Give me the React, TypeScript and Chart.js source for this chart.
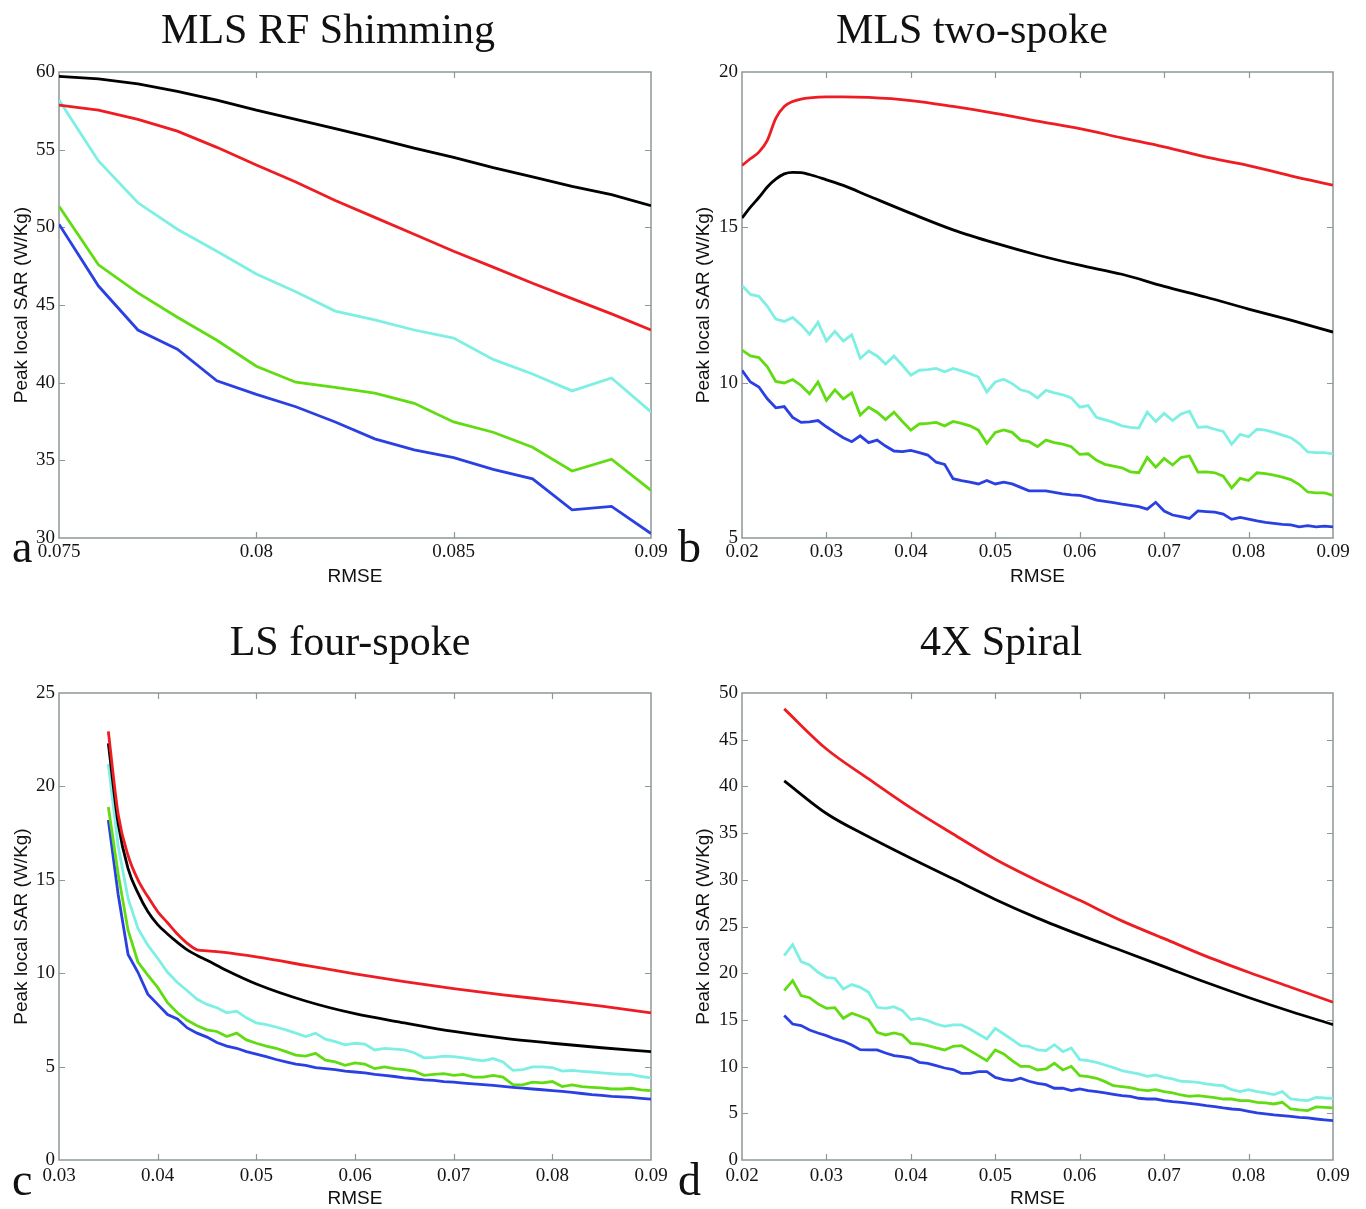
import React, { useEffect, useRef } from "react";
import { Chart, registerables } from "chart.js";

Chart.register(...registerables);

// ---------- shared x positions (RMSE) ----------
const rmseA = [0.075, 0.076, 0.077, 0.078, 0.079, 0.08, 0.081, 0.082, 0.083, 0.084, 0.085, 0.086, 0.087, 0.088, 0.089, 0.09];
const rmseFine = [
  0.02, 0.021, 0.022, 0.023, 0.024, 0.025, 0.026, 0.027, 0.028, 0.029,
  0.03, 0.031, 0.032, 0.033, 0.034, 0.035, 0.036, 0.037, 0.038, 0.039,
  0.04, 0.041, 0.042, 0.043, 0.044, 0.045, 0.046, 0.047, 0.048, 0.049,
  0.05, 0.051, 0.052, 0.053, 0.054, 0.055, 0.056, 0.057, 0.058, 0.059,
  0.06, 0.061, 0.062, 0.063, 0.064, 0.065, 0.066, 0.067, 0.068, 0.069,
  0.07, 0.071, 0.072, 0.073, 0.074, 0.075, 0.076, 0.077, 0.078, 0.079,
  0.08, 0.081, 0.082, 0.083, 0.084, 0.085, 0.086, 0.087, 0.088, 0.089, 0.09,
];
const rmseC = rmseFine.slice(15); // 0.035 .. 0.09
const rmseD = rmseFine.slice(5); // 0.025 .. 0.09

// ---------- panel a : MLS RF Shimming ----------
const aBlack = [59.72, 59.56, 59.24, 58.76, 58.19, 57.54, 56.95, 56.36, 55.75, 55.1, 54.51, 53.84, 53.25, 52.64, 52.1, 51.4];
const aRed = [57.87, 57.54, 56.95, 56.19, 55.15, 54.01, 52.92, 51.73, 50.64, 49.55, 48.46, 47.44, 46.4, 45.41, 44.43, 43.39];
const aCyan = [58.19, 54.27, 51.58, 49.88, 48.46, 47.0, 45.85, 44.61, 44.04, 43.39, 42.87, 41.5, 40.56, 39.47, 40.3, 38.12];
const aGreen = [51.36, 47.59, 45.78, 44.21, 42.73, 41.06, 40.03, 39.69, 39.32, 38.67, 37.47, 36.81, 35.84, 34.31, 35.07, 33.07];
const aBlue = [50.2, 46.22, 43.39, 42.15, 40.12, 39.25, 38.45, 37.47, 36.38, 35.68, 35.18, 34.42, 33.81, 31.81, 32.03, 30.29];

// ---------- panel b : MLS two-spoke ----------
const bSmoothX = [0.02, 0.021, 0.022, 0.023, 0.024, 0.025, 0.026, 0.027, 0.028, 0.03, 0.032, 0.035, 0.04, 0.045, 0.05, 0.055, 0.06, 0.065, 0.07, 0.075, 0.08, 0.085, 0.09];
const bRed = [16.99, 17.21, 17.42, 17.8, 18.51, 18.89, 19.05, 19.13, 19.17, 19.2, 19.2, 19.18, 19.08, 18.89, 18.67, 18.42, 18.18, 17.88, 17.59, 17.26, 16.99, 16.66, 16.36];
const bBlack = [15.3, 15.65, 15.96, 16.3, 16.55, 16.72, 16.77, 16.76, 16.7, 16.53, 16.35, 16.01, 15.45, 14.92, 14.49, 14.11, 13.78, 13.49, 13.1, 12.75, 12.37, 12.01, 11.63];
const bCyan = [
  13.13, 12.84, 12.78, 12.46, 12.05, 11.97, 12.1, 11.86, 11.56, 11.94,
  11.34, 11.65, 11.34, 11.54, 10.78, 11.02, 10.86, 10.6, 10.86, 10.56,
  10.24, 10.4, 10.42, 10.46, 10.35, 10.46, 10.38, 10.29, 10.18, 9.7,
  10.02, 10.11, 9.97, 9.77, 9.7, 9.51, 9.75, 9.67, 9.61, 9.51,
  9.21, 9.26, 8.88, 8.8, 8.72, 8.61, 8.56, 8.54, 9.05, 8.75,
  9.01, 8.78, 8.99, 9.08, 8.56, 8.58, 8.5, 8.43, 8.02, 8.34,
  8.26, 8.5, 8.47, 8.4, 8.31, 8.23, 8.04, 7.77, 7.75, 7.75, 7.71,
];
const bGreen = [
  11.05, 10.86, 10.81, 10.51, 10.04, 9.99, 10.1, 9.91, 9.64, 10.02,
  9.43, 9.77, 9.48, 9.67, 8.96, 9.21, 9.05, 8.81, 9.05, 8.75,
  8.47, 8.67, 8.69, 8.72, 8.61, 8.75, 8.69, 8.61, 8.47, 8.05,
  8.4, 8.48, 8.4, 8.15, 8.1, 7.94, 8.15, 8.07, 8.02, 7.94,
  7.69, 7.71, 7.5, 7.37, 7.31, 7.26, 7.13, 7.1, 7.59, 7.28,
  7.56, 7.35, 7.59, 7.64, 7.12, 7.13, 7.1, 6.99, 6.61, 6.92,
  6.85, 7.1, 7.07, 7.02, 6.96, 6.88, 6.72, 6.48, 6.45, 6.45, 6.37,
];
const bBlue = [
  10.4, 10.02, 9.86, 9.48, 9.19, 9.23, 8.88, 8.72, 8.74, 8.78,
  8.58, 8.4, 8.23, 8.1, 8.29, 8.07, 8.15, 7.96, 7.8, 7.78,
  7.82, 7.75, 7.67, 7.44, 7.37, 6.91, 6.85, 6.8, 6.74, 6.85,
  6.74, 6.8, 6.74, 6.63, 6.52, 6.52, 6.52, 6.47, 6.42, 6.39,
  6.37, 6.31, 6.22, 6.18, 6.14, 6.09, 6.05, 6.01, 5.93, 6.15,
  5.87, 5.74, 5.69, 5.63, 5.87, 5.85, 5.83, 5.77, 5.6, 5.66,
  5.61, 5.55, 5.5, 5.47, 5.44, 5.42, 5.36, 5.4, 5.36, 5.38, 5.36,
];

// ---------- panel c : LS four-spoke ----------
const cSmoothX = [0.035, 0.036, 0.037, 0.038, 0.039, 0.04, 0.041, 0.042, 0.043, 0.044, 0.045, 0.047, 0.05, 0.055, 0.06, 0.065, 0.07, 0.075, 0.08, 0.085, 0.09];
const cRed = [22.95, 18.5, 16.3, 15.0, 14.1, 13.3, 12.7, 12.1, 11.6, 11.25, 11.2, 11.1, 10.87, 10.42, 9.96, 9.55, 9.18, 8.84, 8.55, 8.24, 7.88];
const cBlack = [22.3, 18.0, 15.6, 14.3, 13.3, 12.6, 12.1, 11.65, 11.25, 10.95, 10.69, 10.14, 9.42, 8.51, 7.83, 7.34, 6.88, 6.52, 6.25, 6.01, 5.8];
const cCyan = [
  21.2, 16.8, 14.0, 12.4, 11.5, 10.8, 10.05, 9.5, 9.06, 8.6,
  8.33, 8.15, 7.88, 7.97, 7.61, 7.34, 7.25, 7.12, 6.97, 6.79,
  6.61, 6.79, 6.47, 6.34, 6.16, 6.25, 6.2, 5.89, 5.98, 5.94,
  5.89, 5.74, 5.47, 5.49, 5.56, 5.53, 5.47, 5.38, 5.31, 5.43,
  5.25, 4.8, 4.84, 4.98, 4.98, 4.95, 4.76, 4.8, 4.75, 4.71,
  4.66, 4.62, 4.58, 4.58, 4.47, 4.4,
];
const cGreen = [
  18.9, 15.3, 12.3, 10.6, 9.9, 9.24, 8.42, 7.88, 7.48, 7.19,
  6.97, 6.88, 6.61, 6.79, 6.43, 6.25, 6.1, 5.98, 5.8, 5.62,
  5.56, 5.71, 5.34, 5.25, 5.07, 5.2, 5.13, 4.89, 4.98, 4.89,
  4.84, 4.76, 4.53, 4.58, 4.62, 4.53, 4.58, 4.44, 4.44, 4.53,
  4.44, 4.04, 4.02, 4.17, 4.13, 4.2, 3.93, 4.02, 3.93, 3.89,
  3.86, 3.8, 3.8, 3.84, 3.75, 3.71,
];
const cBlue = [
  18.2, 14.2, 11.0, 10.05, 8.88, 8.33, 7.79, 7.55, 7.07, 6.79,
  6.58, 6.29, 6.1, 5.98, 5.8, 5.67, 5.53, 5.38, 5.25, 5.13,
  5.07, 4.95, 4.89, 4.84, 4.76, 4.71, 4.66, 4.58, 4.53, 4.47,
  4.4, 4.35, 4.29, 4.26, 4.2, 4.17, 4.12, 4.08, 4.03, 3.99,
  3.94, 3.89, 3.85, 3.8, 3.76, 3.71, 3.67, 3.62, 3.56, 3.5,
  3.46, 3.41, 3.38, 3.35, 3.3, 3.26,
];

// ---------- panel d : 4X Spiral ----------
const dSmoothX = [0.025, 0.03, 0.035, 0.04, 0.045, 0.05, 0.055, 0.06, 0.065, 0.07, 0.075, 0.08, 0.085, 0.09];
const dRed = [48.3, 44.0, 40.8, 37.7, 34.9, 32.2, 29.9, 27.8, 25.6, 23.7, 21.8, 20.1, 18.5, 16.9];
const dBlack = [40.6, 37.1, 34.6, 32.3, 30.1, 27.9, 25.9, 24.1, 22.4, 20.7, 19.0, 17.4, 15.9, 14.5];
const dCyan = [
  21.88, 23.06, 21.24, 20.88, 20.1, 19.56, 19.45, 18.31, 18.78, 18.49,
  17.96, 16.35, 16.24, 16.42, 15.99, 15.03, 15.17, 14.92, 14.56, 14.31,
  14.46, 14.46, 14.03, 13.49, 12.96, 14.1, 13.49, 12.89, 12.24, 12.17,
  11.78, 11.71, 12.35, 11.6, 12.0, 10.75, 10.64, 10.46, 10.17, 9.89,
  9.57, 9.39, 9.21, 8.96, 9.1, 8.85, 8.68, 8.43, 8.39, 8.32,
  8.14, 8.03, 7.96, 7.53, 7.32, 7.53, 7.32, 7.18, 7.0, 7.32,
  6.53, 6.43, 6.36, 6.71, 6.64, 6.61,
];
const dGreen = [
  18.13, 19.2, 17.6, 17.38, 16.71, 16.24, 16.31, 15.17, 15.71, 15.39,
  15.03, 13.67, 13.39, 13.6, 13.39, 12.49, 12.42, 12.24, 12.0, 11.78,
  12.17, 12.24, 11.71, 11.17, 10.64, 11.78, 11.35, 10.64, 10.03, 10.03,
  9.64, 9.75, 10.35, 9.64, 10.03, 9.03, 8.93, 8.75, 8.39, 7.96,
  7.86, 7.75, 7.53, 7.43, 7.53, 7.32, 7.18, 6.96, 6.82, 6.89,
  6.78, 6.68, 6.53, 6.53, 6.36, 6.36, 6.18, 6.11, 6.0, 6.18,
  5.46, 5.36, 5.29, 5.68, 5.64, 5.57,
];
const dBlue = [
  15.46, 14.56, 14.39, 13.92, 13.6, 13.32, 12.96, 12.71, 12.32, 11.82,
  11.78, 11.78, 11.46, 11.17, 11.07, 10.92, 10.46, 10.35, 10.1, 9.85,
  9.68, 9.28, 9.28, 9.46, 9.46, 8.85, 8.6, 8.5, 8.75, 8.43,
  8.21, 8.07, 7.68, 7.68, 7.43, 7.61, 7.43, 7.32, 7.18, 7.03,
  6.89, 6.82, 6.61, 6.53, 6.53, 6.36, 6.25, 6.18, 6.07, 5.96,
  5.82, 5.71, 5.57, 5.46, 5.39, 5.21, 5.04, 4.93, 4.82, 4.75,
  4.68, 4.57, 4.5, 4.39, 4.29, 4.21,
];

// ---------- text ----------
const panelTitles = ["MLS RF Shimming", "MLS two-spoke", "LS four-spoke", "4X Spiral"];
const panelLetters = ["a", "b", "c", "d"];
const xAxisTitle = "RMSE";
const yAxisTitle = "Peak local SAR (W/Kg)";

// ---------- styles ----------
const C_BLACK = "#000000";
const C_RED = "#ee1d23";
const C_CYAN = "#7eefe3";
const C_GREEN = "#62dc12";
const C_BLUE = "#2b40e2";
const FRAME = "#8d9797";
const SERIF = "'Liberation Serif', 'Times New Roman', serif";
const SANS = "'Liberation Sans', Arial, sans-serif";

type Line = { xs: number[]; ys: number[]; color: string; smooth: boolean };
type Panel = {
  left: number; top: number; width: number; height: number;
  padTop: number; padRight: number; yW: number; xH: number; xPad: number;
  xMin: number; xMax: number; xStep: number;
  yMin: number; yMax: number; yStep: number;
  title: string; titleX: number; titleY: number;
  letter: string; letterX: number; letterY: number;
  rmseY: number; yTitleX: number;
  lines: Line[];
};

const panels: Panel[] = [
  {
    left: 0, top: 0, width: 683, height: 604,
    padTop: 72, padRight: 32, yW: 59, xH: 66, xPad: 3,
    xMin: 0.075, xMax: 0.09, xStep: 0.005, yMin: 30, yMax: 60, yStep: 5,
    title: panelTitles[0], titleX: 328, titleY: 43,
    letter: panelLetters[0], letterX: 12, letterY: 562,
    rmseY: 582, yTitleX: 22,
    lines: [
      { xs: rmseA, ys: aBlack, color: C_BLACK, smooth: false },
      { xs: rmseA, ys: aRed, color: C_RED, smooth: false },
      { xs: rmseA, ys: aCyan, color: C_CYAN, smooth: false },
      { xs: rmseA, ys: aGreen, color: C_GREEN, smooth: false },
      { xs: rmseA, ys: aBlue, color: C_BLUE, smooth: false },
    ],
  },
  {
    left: 668, top: 0, width: 698, height: 604,
    padTop: 72, padRight: 33, yW: 74, xH: 66, xPad: 3,
    xMin: 0.02, xMax: 0.09, xStep: 0.01, yMin: 5, yMax: 20, yStep: 5,
    title: panelTitles[1], titleX: 304, titleY: 43,
    letter: panelLetters[1], letterX: 10, letterY: 562,
    rmseY: 582, yTitleX: 36,
    lines: [
      { xs: bSmoothX, ys: bRed, color: C_RED, smooth: true },
      { xs: bSmoothX, ys: bBlack, color: C_BLACK, smooth: true },
      { xs: rmseFine, ys: bCyan, color: C_CYAN, smooth: false },
      { xs: rmseFine, ys: bGreen, color: C_GREEN, smooth: false },
      { xs: rmseFine, ys: bBlue, color: C_BLUE, smooth: false },
    ],
  },
  {
    left: 0, top: 605, width: 683, height: 604,
    padTop: 88, padRight: 32, yW: 59, xH: 49, xPad: 5,
    xMin: 0.03, xMax: 0.09, xStep: 0.01, yMin: 0, yMax: 25, yStep: 5,
    title: panelTitles[2], titleX: 350, titleY: 50,
    letter: panelLetters[2], letterX: 12, letterY: 590,
    rmseY: 599, yTitleX: 22,
    lines: [
      { xs: cSmoothX, ys: cRed, color: C_RED, smooth: true },
      { xs: cSmoothX, ys: cBlack, color: C_BLACK, smooth: true },
      { xs: rmseC, ys: cCyan, color: C_CYAN, smooth: false },
      { xs: rmseC, ys: cGreen, color: C_GREEN, smooth: false },
      { xs: rmseC, ys: cBlue, color: C_BLUE, smooth: false },
    ],
  },
  {
    left: 668, top: 605, width: 698, height: 604,
    padTop: 88, padRight: 33, yW: 74, xH: 49, xPad: 5,
    xMin: 0.02, xMax: 0.09, xStep: 0.01, yMin: 0, yMax: 50, yStep: 5,
    title: panelTitles[3], titleX: 333, titleY: 50,
    letter: panelLetters[3], letterX: 10, letterY: 590,
    rmseY: 599, yTitleX: 36,
    lines: [
      { xs: dSmoothX, ys: dRed, color: C_RED, smooth: true },
      { xs: dSmoothX, ys: dBlack, color: C_BLACK, smooth: true },
      { xs: rmseD, ys: dCyan, color: C_CYAN, smooth: false },
      { xs: rmseD, ys: dGreen, color: C_GREEN, smooth: false },
      { xs: rmseD, ys: dBlue, color: C_BLUE, smooth: false },
    ],
  },
];

const fmt = (v: number) => String(Number(Number(v).toFixed(4)));

function decorPlugin(p: Panel) {
  return {
    id: "decor",
    beforeDatasetsDraw(chart: any) {
      const { ctx, chartArea: a, scales } = chart;
      ctx.save();
      ctx.strokeStyle = FRAME;
      ctx.lineWidth = 1.5;
      ctx.strokeRect(a.left, a.top, a.right - a.left, a.bottom - a.top);
      const TL = 6;
      ctx.beginPath();
      for (const t of scales.x.ticks) {
        const px = Math.round(scales.x.getPixelForValue(t.value)) + 0.5;
        if (px <= a.left + 2 || px >= a.right - 2) continue;
        ctx.moveTo(px, a.bottom); ctx.lineTo(px, a.bottom - TL);
        ctx.moveTo(px, a.top); ctx.lineTo(px, a.top + TL);
      }
      for (const t of scales.y.ticks) {
        const py = Math.round(scales.y.getPixelForValue(t.value)) + 0.5;
        if (py <= a.top + 2 || py >= a.bottom - 2) continue;
        ctx.moveTo(a.left, py); ctx.lineTo(a.left + TL, py);
        ctx.moveTo(a.right, py); ctx.lineTo(a.right - TL, py);
      }
      ctx.lineWidth = 1.2;
      ctx.stroke();
      ctx.restore();
    },
    afterDraw(chart: any) {
      const { ctx, chartArea: a } = chart;
      ctx.save();
      ctx.fillStyle = "#111";
      ctx.textBaseline = "alphabetic";
      ctx.textAlign = "center";
      ctx.font = `42px ${SERIF}`;
      ctx.fillText(p.title, p.titleX, p.titleY);
      ctx.textAlign = "left";
      ctx.font = `46px ${SERIF}`;
      ctx.fillText(p.letter, p.letterX, p.letterY);
      ctx.textAlign = "center";
      ctx.font = `19px ${SANS}`;
      ctx.fillText(xAxisTitle, (a.left + a.right) / 2, p.rmseY);
      ctx.translate(p.yTitleX, (a.top + a.bottom) / 2);
      ctx.rotate(-Math.PI / 2);
      ctx.textBaseline = "middle";
      ctx.fillText(yAxisTitle, 0, 0);
      ctx.restore();
    },
  };
}

function PanelChart({ p }: { p: Panel }) {
  const ref = useRef<HTMLCanvasElement | null>(null);
  useEffect(() => {
    if (!ref.current) return;
    const chart = new Chart(ref.current, {
      type: "line",
      data: {
        datasets: p.lines.map((l) => ({
          data: l.xs.map((x, i) => ({ x, y: l.ys[i] })),
          borderColor: l.color,
          backgroundColor: l.color,
          borderWidth: 2.8,
          pointRadius: 0,
          fill: false,
          tension: 0,
          cubicInterpolationMode: l.smooth ? "monotone" : "default",
        })),
      },
      options: {
        animation: false,
        responsive: false,
        maintainAspectRatio: false,
        events: [],
        layout: { padding: { top: p.padTop, right: p.padRight, left: 0, bottom: 0 } },
        plugins: { legend: { display: false }, tooltip: { enabled: false }, title: { display: false } },
        scales: {
          x: {
            type: "linear",
            min: p.xMin,
            max: p.xMax,
            grid: { display: false, drawTicks: false },
            border: { display: false },
            afterFit: (s: any) => { s.height = p.xH; },
            ticks: {
              stepSize: p.xStep,
              autoSkip: false,
              maxRotation: 0,
              padding: p.xPad,
              color: "#151515",
              font: { family: SERIF, size: 19 },
              callback: (v: any) => fmt(v),
            },
          },
          y: {
            type: "linear",
            min: p.yMin,
            max: p.yMax,
            grid: { display: false, drawTicks: false },
            border: { display: false },
            afterFit: (s: any) => { s.width = p.yW; },
            ticks: {
              stepSize: p.yStep,
              autoSkip: false,
              padding: 4,
              color: "#151515",
              font: { family: SERIF, size: 19 },
              callback: (v: any) => fmt(v),
            },
          },
        },
      },
      plugins: [decorPlugin(p)],
    } as any);
    return () => chart.destroy();
  }, [p]);
  return (
    <canvas
      ref={ref}
      width={p.width}
      height={p.height}
      style={{ position: "absolute", left: p.left, top: p.top, width: p.width, height: p.height }}
    />
  );
}

export default function App() {
  return (
    <div style={{ position: "absolute", left: 0, top: 0, width: 1366, height: 1209, background: "#fff" }}>
      {panels.map((p, i) => (
        <PanelChart key={i} p={p} />
      ))}
    </div>
  );
}
